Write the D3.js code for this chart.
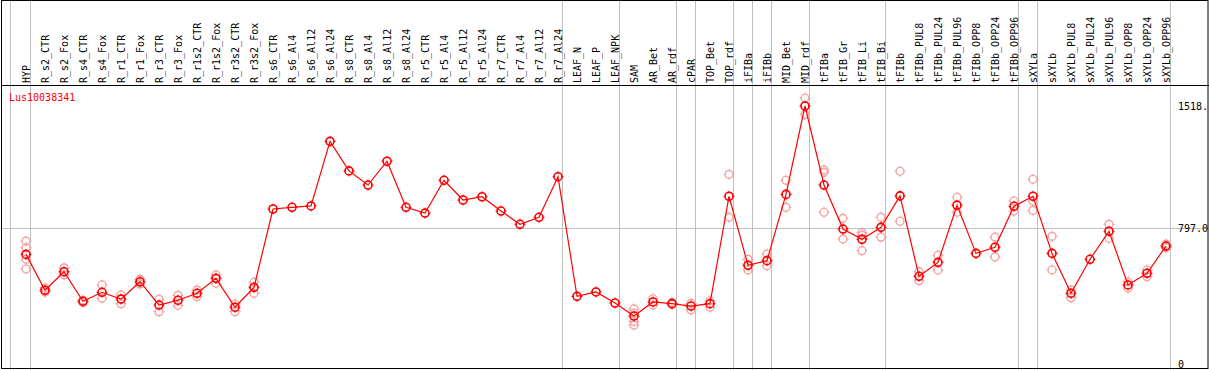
<!DOCTYPE html>
<html>
<head>
<meta charset="utf-8">
<script src="https://cdn.jsdelivr.net/npm/d3@7"></script>
<style>
  body { margin: 0; background: #fff; }
  text { font-family: "DejaVu Sans Mono", monospace; font-size: 10px; }
</style>
</head>
<body>
<div id="chart"></div>
<script>
const categories = ["HYP","R_s2_CTR","R_s2_Fox","R_s4_CTR","R_s4_Fox","R_r1_CTR","R_r1_Fox","R_r3_CTR","R_r3_Fox",
  "R_r1s2_CTR","R_r1s2_Fox","R_r3s2_CTR","R_r3s2_Fox","R_s6_CTR","R_s6_Al4","R_s6_Al12","R_s6_Al24",
  "R_s8_CTR","R_s8_Al4","R_s8_Al12","R_s8_Al24","R_r5_CTR","R_r5_Al4","R_r5_Al12","R_r5_Al24",
  "R_r7_CTR","R_r7_Al4","R_r7_Al12","R_r7_Al24","LEAF_N","LEAF_P","LEAF_NPK","SAM","AR_Bet","AR_rdf",
  "cPAR","TOP_Bet","TOP_rdf","iFIBa","iFIBb","MID_Bet","MID_rdf","tFIBa","tFIB_Gr","tFIB_Li","tFIB_Bi",
  "tFIBb","tFIBb_PUL8","tFIBb_PUL24","tFIBb_PUL96","tFIBb_OPP8","tFIBb_OPP24","tFIBb_OPP96",
  "sXYLa","sXYLb","sXYLb_PUL8","sXYLb_PUL24","sXYLb_PUL96","sXYLb_OPP8","sXYLb_OPP24","sXYLb_OPP96"];

const means = [645,434,543,369,422,382,484,347,375,416,504,334,451,912,922,930,1310,
  1136,1053,1193,922,888,1081,965,984,900,822,863,1102,398,424,359,282,365,355,
  341,355,987,581,608,998,1518,1053,794,734,804,
  989,516,598,934,651,687,928,987,651,416,616,781,465,534,694];

const replicates = [[723,684,616,559],[447,423],[566,524],[375,362],[465,387],[406,355],[498,471],[381,308],[404,345],
  [435,396],[524,475],[353,308],[481,416],[],[],[],[],
  [],[],[],[],[],[],[],[],
  [],[],[],[],[],[],[],[324,300,250,229],[384,347],[362,350],
  [357,318],[372,334],[1116,863],[616,553],[647,578],[1081,922],[1565,1469],[1142,1128,893],[857,735],[773,757,667],[863,746],
  [1134,840],[543,490],[640,553],[981,893],[],[746,630],[959,900],
  [1087,959,904],[751,553],[435,390],[],[822,740],[484,447],[553,514],[705,685]];

// group separators drawn after these categories
const groupEnds = ["HYP","R_r7_Al24","LEAF_NPK","AR_rdf","cPAR","TOP_rdf","iFIBa","iFIBb","MID_rdf","tFIB_Bi","tFIBb_OPP96","sXYLa","sXYLb_OPP96"];
const yTicks = [0, 797, 1518];
const yTickLabels = ["0", "797.0", "1518."];
const geneName = "Lus10038341";

const W = 1209, H = 370, headerY = 85;

const svg = d3.select("#chart").append("svg").attr("width", W).attr("height", H);

const x = d3.scalePoint().domain(categories).range([26, 1166]);
const y = d3.scaleLinear().domain([0, 1518]).range([364, 106]);

// vertical separators
const sepX = [x(categories[0]) - 15.5].concat(groupEnds.map(c => x(c) + 4.5));
svg.selectAll("line.sep").data(sepX).enter().append("line")
  .attr("x1", d => d).attr("x2", d => d).attr("y1", 0).attr("y2", H)
  .attr("stroke", "#c0c0c0").attr("stroke-width", 1);

// horizontal mean line
svg.append("line")
  .attr("x1", 1).attr("x2", W - 1)
  .attr("y1", Math.floor(y(797)) + 0.5).attr("y2", Math.floor(y(797)) + 0.5)
  .attr("stroke", "#c0c0c0");

// frame
svg.append("rect").attr("x", 1.5).attr("y", 0.5).attr("width", W - 2.5).attr("height", H - 2)
  .attr("fill", "none").attr("stroke", "#000");
svg.append("line").attr("x1", 1).attr("x2", W).attr("y1", headerY + 0.5).attr("y2", headerY + 0.5)
  .attr("stroke", "#000");

// category labels
svg.selectAll("text.cat").data(categories).enter().append("text")
  .attr("transform", d => "translate(" + x(d) + ",83) rotate(-90)")
  .attr("dy", "0.35em")
  .attr("fill", "#000")
  .text(d => d);

// y labels on the right
svg.selectAll("text.yl").data(yTicks).enter().append("text")
  .attr("x", 1178).attr("y", d => y(d)).attr("dy", "0.35em")
  .attr("fill", "#000")
  .text((d, i) => yTickLabels[i]);

svg.append("text").attr("x", 9).attr("y", 101).attr("fill", "red").text(geneName);

function marker(g, r, color, sw) {
  g.append("circle").attr("r", r).attr("fill", "none").attr("stroke", color).attr("stroke-width", sw);
  g.append("path")
    .attr("d", `M0,${-r-1.5}V${-r+1}M0,${r-1}V${r+1.5}M${-r-1.5},0H${-r+1}M${r-1},0H${r+1.5}`)
    .attr("stroke", color).attr("stroke-width", 1);
}

// replicate points
const repPts = [];
replicates.forEach((arr, i) => arr.forEach(v => repPts.push({c: categories[i], v: v})));
svg.selectAll("g.rep").data(repPts).enter().append("g")
  .attr("transform", d => "translate(" + x(d.c) + "," + y(d.v) + ")")
  .each(function() { marker(d3.select(this), 4, "#f2a0a0", 1.2); });

// mean line
const pts = categories.map((c, i) => ({c: c, v: means[i]}));
svg.append("path").datum(pts)
  .attr("d", d3.line().x(d => x(d.c)).y(d => y(d.v)))
  .attr("fill", "none").attr("stroke", "red").attr("stroke-width", 1.2);

svg.selectAll("g.pt").data(pts).enter().append("g")
  .attr("transform", d => "translate(" + x(d.c) + "," + y(d.v) + ")")
  .each(function() { marker(d3.select(this), 4, "red", 1.6); });
</script>
</body>
</html>
